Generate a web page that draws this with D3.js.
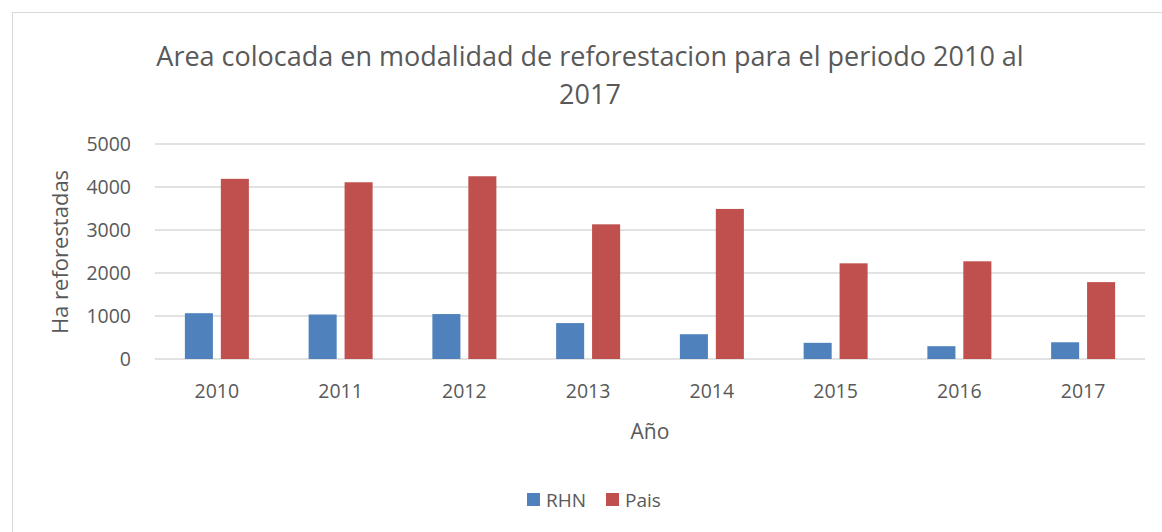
<!DOCTYPE html>
<html>
<head>
<meta charset="utf-8">
<script src="https://cdn.jsdelivr.net/npm/d3@7"></script>
<style>
  body { margin: 0; background: #fff; }
  text { font-family: "Open Sans", "Liberation Sans", sans-serif; fill: #595959; }
</style>
</head>
<body>
<div id="chart"></div>
<script>
// data
const years = ['2010', '2011', '2012', '2013', '2014', '2015', '2016', '2017'];
const rhn = [1065, 1035, 1045, 835, 576, 376, 298, 389];
const pais = [4190, 4110, 4250, 3132, 3490, 2225, 2272, 1788];
const yTicks = [0, 1000, 2000, 3000, 4000, 5000];
const seriesNames = ['RHN', 'Pais'];
const colors = ['#4f81bd', '#c0504d'];

const width = 1162, height = 532;
const margin = { left: 155, right: 17, top: 144, bottom: 173 };

const svg = d3.select('#chart').append('svg')
  .attr('width', width)
  .attr('height', height);

// outer chart border
svg.append('rect')
  .attr('x', 12.5).attr('y', 12.5)
  .attr('width', width + 20).attr('height', height + 20)
  .attr('fill', 'none')
  .attr('stroke', '#d9d9d9');

const x = d3.scaleBand()
  .domain(years)
  .range([margin.left, width - margin.right]);

const x1 = d3.scaleBand()
  .domain(seriesNames)
  .range([0, 64])
  .paddingInner(0.22);

const y = d3.scaleLinear()
  .domain([0, 5000])
  .range([height - margin.bottom, margin.top]);

// gridlines
svg.append('g')
  .selectAll('line')
  .data(yTicks)
  .enter()
  .append('line')
  .attr('x1', margin.left)
  .attr('x2', width - margin.right)
  .attr('y1', (d) => y(d))
  .attr('y2', (d) => y(d))
  .attr('stroke', '#d9d9d9')
  .attr('stroke-width', 1.5);

// y tick labels
svg.append('g')
  .selectAll('text')
  .data(yTicks)
  .enter()
  .append('text')
  .attr('x', 131)
  .attr('y', (d) => y(d))
  .attr('dy', '0.35em')
  .attr('text-anchor', 'end')
  .style('font-size', '19.5px')
  .text((d) => d);

// bars
const rows = years.map((yr, i) => ({ year: yr, values: [rhn[i], pais[i]] }));

const group = svg.append('g')
  .selectAll('g')
  .data(rows)
  .enter()
  .append('g')
  .attr('transform', (d) => `translate(${x(d.year) + x.bandwidth() / 2 - 32},0)`);

group.selectAll('rect')
  .data((d) => d.values.map((v, j) => ({ name: seriesNames[j], value: v, j })))
  .enter()
  .append('rect')
  .attr('x', (d) => x1(d.name))
  .attr('width', x1.bandwidth())
  .attr('y', (d) => y(d.value))
  .attr('height', (d) => y(0) - y(d.value))
  .attr('fill', (d) => colors[d.j]);

// x tick labels
svg.append('g')
  .selectAll('text')
  .data(years)
  .enter()
  .append('text')
  .attr('x', (d) => x(d) + x.bandwidth() / 2)
  .attr('y', 391)
  .attr('dy', '0.35em')
  .attr('text-anchor', 'middle')
  .style('font-size', '19.5px')
  .text((d) => d);

// axis titles
svg.append('text')
  .attr('x', 650)
  .attr('y', 432)
  .attr('dy', '0.35em')
  .attr('text-anchor', 'middle')
  .style('font-size', '21px')
  .text('Año');

svg.append('text')
  .attr('transform', 'translate(60,252) rotate(-90)')
  .attr('dy', '0.35em')
  .attr('text-anchor', 'middle')
  .style('font-size', '22px')
  .text('Ha reforestadas');

// title
const title = svg.append('text')
  .attr('text-anchor', 'middle')
  .style('font-size', '27px');
title.append('tspan').attr('x', 590).attr('y', 66)
  .text('Area colocada en modalidad de reforestacion para el periodo 2010 al');
title.append('tspan').attr('x', 590).attr('y', 104)
  .text('2017');

// legend
const legend = svg.append('g')
  .selectAll('g')
  .data(seriesNames)
  .enter()
  .append('g')
  .attr('transform', (d, i) => `translate(${[527, 606][i]},500)`);

legend.append('rect')
  .attr('x', 0).attr('y', -7)
  .attr('width', 13).attr('height', 13)
  .attr('fill', (d, i) => colors[i]);

legend.append('text')
  .attr('x', 19)
  .attr('dy', '0.35em')
  .style('font-size', '19px')
  .text((d) => d);
</script>
</body>
</html>
